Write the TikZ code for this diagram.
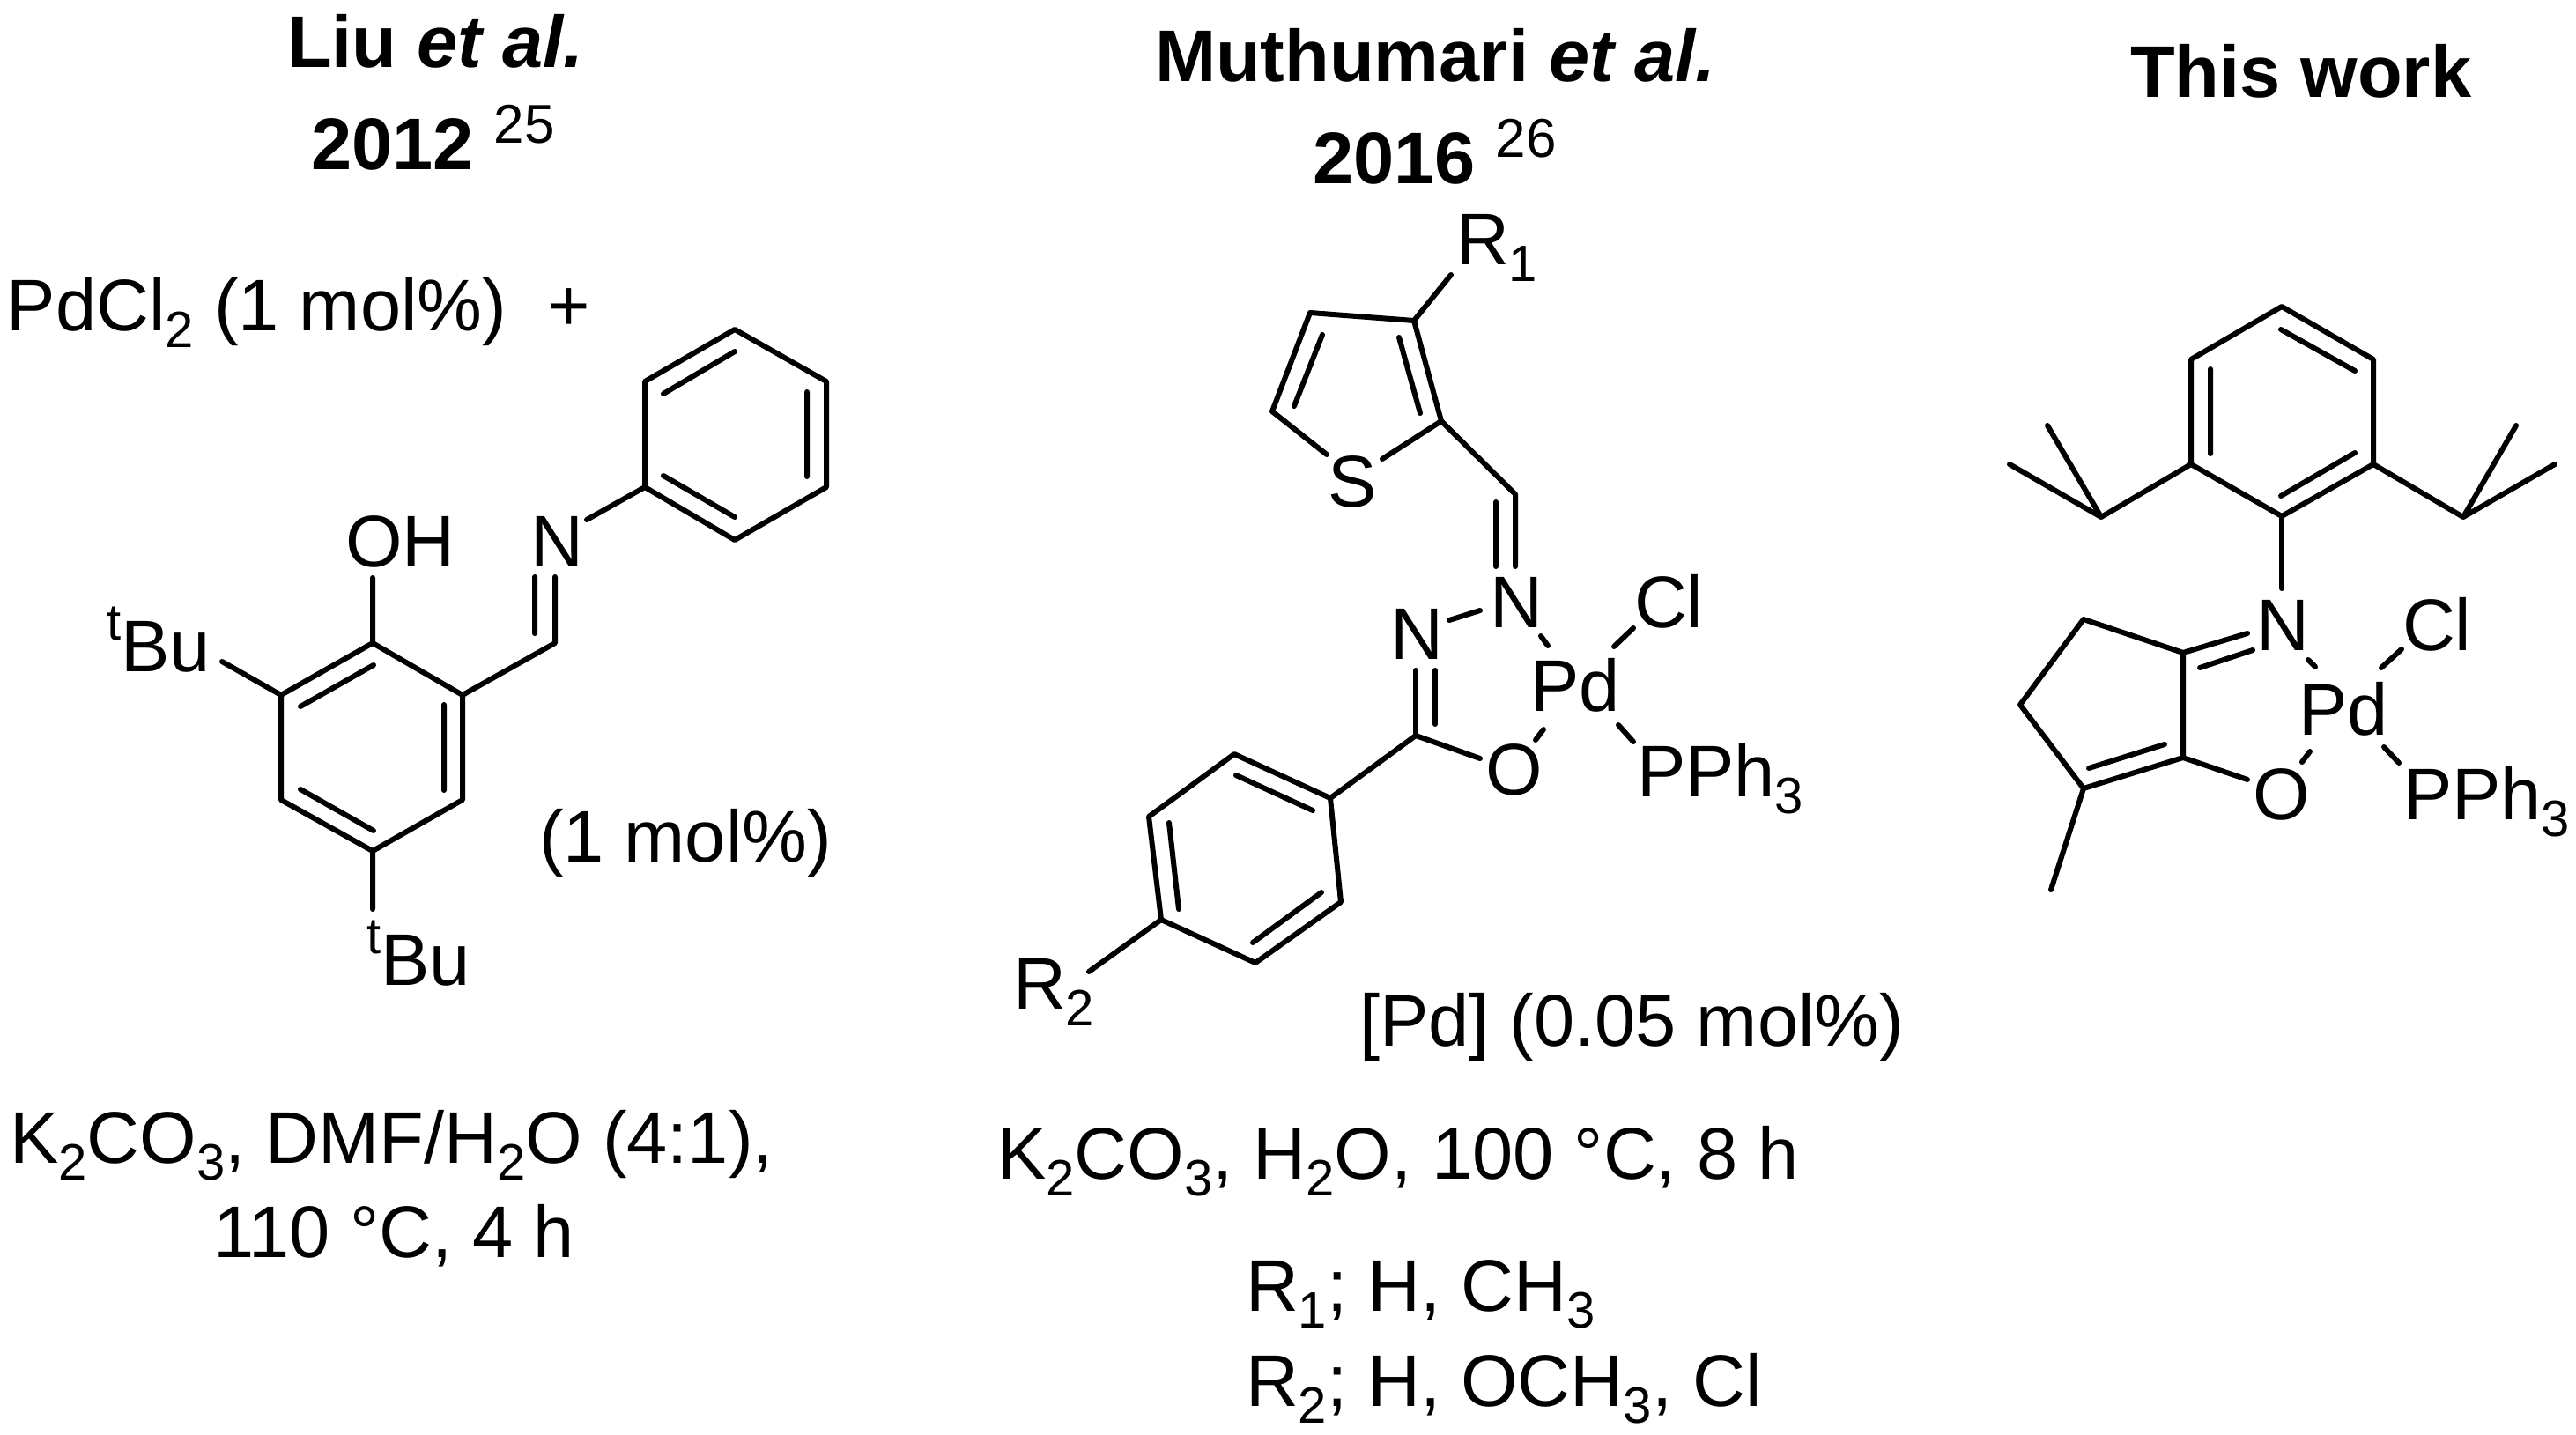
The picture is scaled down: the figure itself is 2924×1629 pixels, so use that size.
\documentclass[tikz,border=0pt]{standalone}
\usepackage{fontspec}
\setmainfont{Liberation Sans}
\newcommand{\sbs}[1]{\raisebox{-19pt}{\fontsize{58}{58}\selectfont #1}}
\newcommand{\sps}[1]{\raisebox{36pt}{\fontsize{58}{58}\selectfont #1}}
\newcommand{\rfn}[1]{\raisebox{30pt}{\fontsize{62}{62}\selectfont\mdseries #1}}
\tikzset{
  lbl/.style={anchor=base west,inner sep=0pt,outer sep=0pt,font=\fontsize{83}{96}\selectfont},
  hdg/.style={anchor=base west,inner sep=0pt,outer sep=0pt,font=\fontsize{83}{96}\selectfont\bfseries},
  bond/.style={line width=6pt,line cap=round,line join=round,black}
}
\begin{document}
\begin{tikzpicture}[x=1pt,y=-1pt]
\useasboundingbox (0,0) rectangle (2924,1629);
% headings
\node[hdg] (h1) at (326,77) {Liu \textit{et al.}};
\node[hdg] (h1b) at (353,193) {2012 \rfn{25}};
\node[hdg] (h2) at (1311,93) {Muthumari \textit{et al.}};
\node[hdg] (h2b) at (1490,209) {2016 \rfn{26}};
\node[hdg] (h3) at (2418,111) {This work};
% left molecule
\node[lbl] (pdcl) at (8,375) {PdCl\sbs{2} (1 mol\%)\ \ +};
\node[lbl] (oh) at (392,643) {OH};
\node[lbl] (n1) at (602,643) {N};
\node[lbl] (tbu1) at (121,762) {\sps{t}Bu};
\node[lbl] (tbu2) at (416,1118) {\sps{t}Bu};
\node[lbl] (mol1) at (612,978) {(1 mol\%)};
\coordinate (a1) at (423,730); \coordinate (a2) at (525,789); \coordinate (a3) at (525,908);
\coordinate (a4) at (423,966); \coordinate (a5) at (319,908); \coordinate (a6) at (319,789);
\coordinate (ch) at (630,730);
\coordinate (ohb) at (423,656); \coordinate (tb1) at (252,751); \coordinate (tb2) at (423,1032);
\coordinate (cn1) at (630,655); \coordinate (cn2) at (607,719); \coordinate (cn3) at (607,655);
\coordinate (nph) at (666,590);
\coordinate (p1) at (732,553); \coordinate (p2) at (732,433); \coordinate (p3) at (834,374);
\coordinate (p4) at (938,433); \coordinate (p5) at (938,553); \coordinate (p6) at (834,613);
\draw[bond] (a1)--(a2)--(a3)--(a4)--(a5)--(a6)--cycle;
\draw[bond] (424,755)--(341,802) (504,800)--(504,897) (424,943)--(341,896);
\draw[bond] (a1)--(ohb) (a6)--(tb1) (a4)--(tb2) (a2)--(ch)--(cn1) (cn2)--(cn3);
\draw[bond] (nph)--(p1);
\draw[bond] (p1)--(p2)--(p3)--(p4)--(p5)--(p6)--cycle;
\draw[bond] (753,447)--(834,399) (916,445)--(916,541) (753,540)--(834,587);
% left conditions
\node[lbl] (c1) at (11,1320) {K\sbs{2}CO\sbs{3}, DMF/H\sbs{2}O (4:1),};
\node[lbl] (c2) at (242,1427) {110 °C, 4 h};
% middle molecule
\node[lbl] (r1) at (1653,301) {R\sbs{1}};
\node[lbl] (s) at (1507,575) {S};
\node[lbl] (n2) at (1691,712) {N};
\node[lbl] (n3) at (1578,748) {N};
\node[lbl] (o1) at (1686,902) {O};
\node[lbl] (pd1) at (1737,807) {Pd};
\node[lbl] (cl1) at (1855,712) {Cl};
\node[lbl] (pph1) at (1858,904) {PPh\sbs{3}};
\node[lbl] (r2) at (1150,1145) {R\sbs{2}};
\node[lbl] (pdm) at (1543,1187) {[Pd] (0.05 mol\%)};
\coordinate (t1) at (1605,364); \coordinate (t2) at (1487,355); \coordinate (t3) at (1444,467);
\coordinate (t4) at (1636,478); \coordinate (ts1) at (1506,516); \coordinate (ts2) at (1569,521);
\coordinate (r1b) at (1647,312); \coordinate (ch2) at (1720,561);
\coordinate (cn4) at (1720,643); \coordinate (cn5) at (1698,570); \coordinate (cn6) at (1698,643);
\coordinate (cc) at (1607,835);
\coordinate (q1) at (1510,906); \coordinate (q2) at (1401,856); \coordinate (q3) at (1304,927);
\coordinate (q4) at (1318,1044); \coordinate (q5) at (1425,1093); \coordinate (q6) at (1522,1024);
\coordinate (r2b) at (1236,1103);
\draw[bond] (ts1)--(t3)--(t2)--(t1)--(t4)--(ts2);
\draw[bond] (1588,383)--(1612,469) (1501,380)--(1469,461);
\draw[bond] (t1)--(r1b) (t4)--(ch2)--(cn4) (cn5)--(cn6);
\draw[bond] (1680,693)--(1645,704);
\draw[bond] (cc)--(1607,761) (1629,822)--(1629,761);
\draw[bond] (cc)--(1680,861) (cc)--(q1);
\draw[bond] (1743,840)--(1752,828) (1749,722)--(1757,733);
\draw[bond] (1832,734)--(1854,713) (1837,823)--(1854,842);
\draw[bond] (q1)--(q2)--(q3)--(q4)--(q5)--(q6)--cycle;
\draw[bond] (1490,920)--(1403,880) (1327,934)--(1338,1032) (1422,1070)--(1500,1013);
\draw[bond] (q4)--(r2b);
% middle conditions
\node[lbl] (c3) at (1132,1338) {K\sbs{2}CO\sbs{3}, H\sbs{2}O, 100 °C, 8 h};
\node[lbl] (c4) at (1414,1488) {R\sbs{1}; H, CH\sbs{3}};
\node[lbl] (c5) at (1414,1596) {R\sbs{2}; H, OCH\sbs{3}, Cl};
% right molecule
\node[lbl] (n4) at (2561,738) {N};
\node[lbl] (o2) at (2557,930) {O};
\node[lbl] (pd2) at (2609,834) {Pd};
\node[lbl] (cl2) at (2727,738) {Cl};
\node[lbl] (pph2) at (2728,930) {PPh\sbs{3}};
\coordinate (b1) at (2590,348); \coordinate (b2) at (2694,408); \coordinate (b3) at (2694,527);
\coordinate (b4) at (2590,586); \coordinate (b5) at (2487,527); \coordinate (b6) at (2487,408);
\coordinate (tl) at (2385,587); \coordinate (tr) at (2796,587);
\coordinate (d1) at (2478,741); \coordinate (d2) at (2365,703); \coordinate (d3) at (2293,800);
\coordinate (d4) at (2365,895); \coordinate (d5) at (2478,860);
\draw[bond] (b1)--(b2)--(b3)--(b4)--(b5)--(b6)--cycle;
\draw[bond] (2589,374)--(2673,421) (2673,514)--(2589,563) (2509,419)--(2509,515);
\draw[bond] (b5)--(tl)--(2281,527) (tl)--(2324,483);
\draw[bond] (b3)--(tr)--(2900,527) (tr)--(2856,483);
\draw[bond] (b4)--(2590,668);
\draw[bond] (d1)--(d2)--(d3)--(d4)--(d5)--cycle;
\draw[bond] (d1)--(2551,719) (2497,758)--(2557,738);
\draw[bond] (2371,872)--(2457,845);
\draw[bond] (d5)--(2551,885) (d4)--(2328,1010);
\draw[bond] (2613,865)--(2622,853) (2620,749)--(2628,757);
\draw[bond] (2703,758)--(2726,737) (2706,848)--(2723,866);
\end{tikzpicture}
\end{document}
